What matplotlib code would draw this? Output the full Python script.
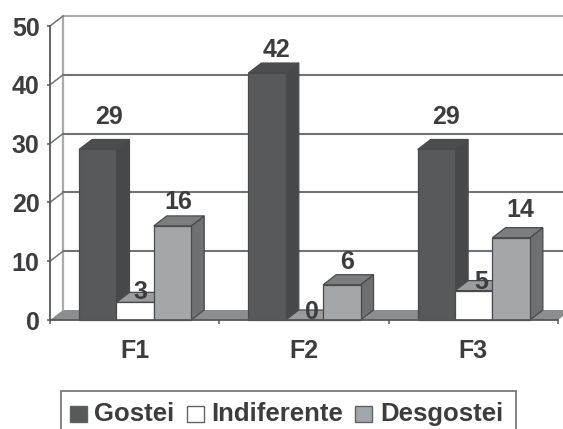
#!/usr/bin/env python3
"""Fake-3D grouped bars: Gostei / Indiferente / Desgostei for F1-F3."""

import matplotlib
matplotlib.use('Agg')
import matplotlib.pyplot as plt
from matplotlib.patches import Rectangle

plt.rcParams['font.family'] = ['Liberation Sans', 'DejaVu Sans']

categories = ['F1', 'F2', 'F3']
series_names = ['Gostei', 'Indiferente', 'Desgostei']
gostei = [29, 42, 29]
indiferente = [3, 0, 5]
desgostei = [16, 6, 14]
y_ticks = [0, 10, 20, 30, 40, 50]

# label nudges in pixels from the bar centre / front top edge
label_dx = [[11.5, 5.5, 6], [9.5, 7.5, 5], [9.5, 7, 9]]
label_dy = [[32, 10, 24], [23, 8, 23], [32, 9, 28]]

# front, side, top
colors = {
    'Gostei': ('#58595b', '#47484a', '#4c4d4f'),
    'Indiferente': ('#ffffff', '#ffffff', '#9a9c9e'),
    'Desgostei': ('#a4a7a9', '#6e7072', '#7b7d7f'),
}
TEXT = '#3d3d3f'
FS = 18
W, H = 563, 429

fig = plt.figure(figsize=(W / 100, H / 100), dpi=100, facecolor='white')
ax = fig.add_axes([50 / W, (H - 320) / H, 508 / W, 294 / H])
ax.set_xlim(0, 3)
ax.set_ylim(0, 50)
ax.patch.set_visible(False)

# depth of the 3D look, in data units
dx = 13 / 169
dy = 10 / 5.88

# floor and back wall
ax.fill([0, dx, 3 + dx, 3], [0, dy, dy, 0], color='#8b8d8f', lw=0, clip_on=False, zorder=1)
ax.plot([dx, dx], [dy, 50 + dy], color='#a9abad', lw=1.6, clip_on=False, zorder=1.5)
for v in y_ticks[1:]:
    c = '#a9abad' if v == 50 else '#707274'
    ax.plot([dx, 3 + dx], [v + dy, v + dy], color=c, lw=1.5, clip_on=False, zorder=1.5)
    ax.plot([0, dx], [v, v + dy], color='#707274', lw=1.1, clip_on=False, zorder=1.5)

# bars
offset = 29 / 169
bar_w = 37.3 / 169
values = [gostei, indiferente, desgostei]
edge = '#4a4a4c'
for i in range(len(categories)):
    for j, name in enumerate(series_names):
        v = values[j][i]
        left = i + offset + j * bar_w
        right = left + bar_w
        front, side, top = colors[name]
        z = 3 + j
        ax.fill([right, right + dx, right + dx, right], [0, dy, v + dy, v],
                facecolor=side, edgecolor=edge, lw=0.9, clip_on=False, zorder=z)
        ax.fill([left, left + dx, right + dx, right], [v, v + dy, v + dy, v],
                facecolor=top, edgecolor=edge, lw=0.9, clip_on=False, zorder=z)
        ax.bar(left, v, width=bar_w, align='edge', color=front, edgecolor=edge,
               linewidth=0.9, clip_on=False, zorder=z + 0.5)
        ax.annotate(str(v), (left + bar_w / 2, v),
                    xytext=(label_dx[i][j] * 0.72, label_dy[i][j] * 0.72),
                    textcoords='offset points', ha='center', va='center',
                    fontsize=FS, fontweight='bold', color=TEXT, zorder=10)

# axes
for s in ['top', 'right']:
    ax.spines[s].set_visible(False)
for s in ['left', 'bottom']:
    ax.spines[s].set_color('#55575a')
    ax.spines[s].set_linewidth(1.3)
    ax.spines[s].set_zorder(9)
ax.set_yticks(y_ticks)
ax.set_xticks(range(len(categories) + 1))
ax.set_xticklabels([])
ax.set_xticks([i + 0.5 for i in range(len(categories))], labels=categories, minor=True)
ax.tick_params(axis='y', length=2.5, width=1.1, color='#55575a', pad=5, labelcolor=TEXT, labelsize=FS)
ax.tick_params(axis='x', which='major', length=3, width=1.1, color='#55575a')
ax.tick_params(axis='x', which='minor', length=0, pad=14, labelcolor=TEXT, labelsize=FS)
for lab in ax.get_yticklabels() + ax.get_xticklabels(minor=True):
    lab.set_fontweight('bold')

# legend, its box runs off the bottom of the image
fig.add_artist(Rectangle((61 / W, -5 / H), 455 / W, (H - 391 + 5) / H, transform=fig.transFigure,
                         facecolor='white', edgecolor='#77797b', lw=1.3))
legend_keys = [70, 187, 355]
legend_text = [94, 211, 380]
for name, kx, tx in zip(series_names, legend_keys, legend_text):
    fig.add_artist(Rectangle((kx / W, (H - 422) / H), 17 / W, 16 / H, transform=fig.transFigure,
                             facecolor=colors[name][0], edgecolor='#606264', lw=1.0))
    fig.text(tx / W, (H - 421) / H, name, ha='left', va='baseline', fontsize=18.5,
             fontweight='bold', color=TEXT)

plt.savefig('out.png', dpi=100)
plt.close()
